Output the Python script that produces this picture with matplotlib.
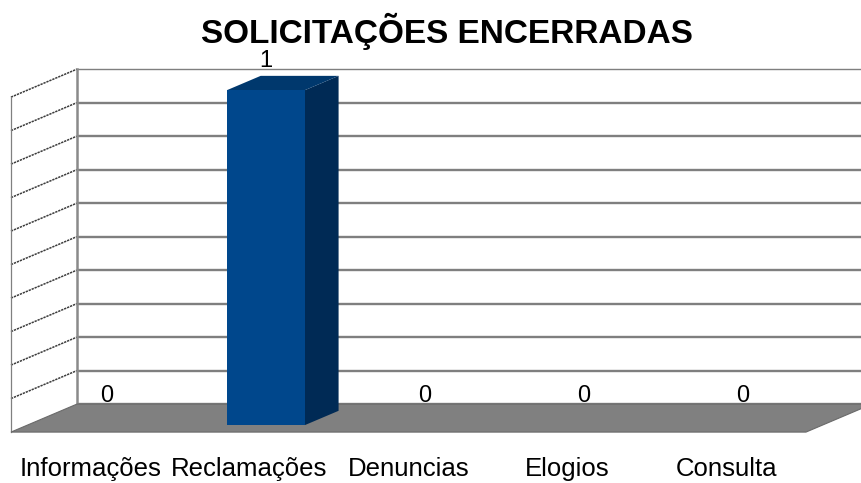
import matplotlib
matplotlib.use('Agg')
from matplotlib import pyplot as plt
from matplotlib.patches import Polygon

plt.rcParams['font.family'] = ['Liberation Sans', 'DejaVu Sans']

categories = ['Informações', 'Reclamações', 'Denuncias', 'Elogios', 'Consulta']
values = [0, 1, 0, 0, 0]
y_max = 1.0
y_step = 0.1

# oblique "3d" projection: depth d in [0, 1] shifts points right and up
DX, DY = 0.415, 0.0836
BAR_W = 0.49
D_FRONT, D_BACK = 0.25, 0.76


def proj(x, v, d):
    return x + d * DX, v + d * DY


fig = plt.figure(figsize=(8.61, 4.83), dpi=100)
ax = fig.add_axes([0, 0, 1, 1])
ax.set_xlim(-0.569, 4.846)
ax.set_ylim(-0.152, 1.290)
ax.axis('off')

n = len(categories)
x_left, x_right = -0.5, n - 0.5

# back wall grid lines
n_lines = int(round(y_max / y_step))
for k in range(n_lines + 1):
    v = k * y_step
    x0, y0 = proj(x_left, v, 1)
    x1, y1 = proj(x_right + 1, v, 1)
    lw = 1.0 if k == n_lines else 1.7
    ax.plot([x0, x1], [y0, y1], color='#7f7f7f', lw=lw, zorder=1, solid_capstyle='butt')
    # same level on the side wall
    if k > 0:
        xa, ya = proj(x_left, v, 0)
        ax.plot([xa, x0], [ya, y0], color='#3c3c3c', lw=1.1, zorder=1,
                linestyle=(0, (1.5, 0.6)))

# wall edges
xb0, yb0 = proj(x_left, 0, 1)
xb1, yb1 = proj(x_left, y_max, 1)
ax.plot([xb0, xb1], [yb0, yb1], color='#8a8a8a', lw=1.8, zorder=1)
xf0, yf0 = proj(x_left, 0, 0)
xf1, yf1 = proj(x_left, y_max, 0)
ax.plot([xf0, xf1], [yf0, yf1], color='#808080', lw=0.9, zorder=1)

# floor
floor = [proj(x_left, 0, 0), proj(x_left, 0, 1), proj(x_right, 0, 1), proj(x_right, 0, 0)]
ax.add_patch(Polygon(floor, closed=True, facecolor='#808080', edgecolor='#6a6a6a',
                     lw=0.8, zorder=2))

# bars: front, side and top faces
for i, v in enumerate(values):
    xl, xr = i - BAR_W / 2, i + BAR_W / 2
    if v > 0:
        front = [proj(xl, 0, D_FRONT), proj(xr, 0, D_FRONT),
                 proj(xr, v, D_FRONT), proj(xl, v, D_FRONT)]
        side = [proj(xr, 0, D_FRONT), proj(xr, 0, D_BACK),
                proj(xr, v, D_BACK), proj(xr, v, D_FRONT)]
        top = [proj(xl, v, D_FRONT), proj(xr, v, D_FRONT),
               proj(xr, v, D_BACK), proj(xl, v, D_BACK)]
        ax.add_patch(Polygon(side, closed=True, facecolor='#002a55', edgecolor='none', zorder=3))
        ax.add_patch(Polygon(top, closed=True, facecolor='#00386d', edgecolor='none', zorder=3))
        ax.add_patch(Polygon(front, closed=True, facecolor='#00478c', edgecolor='none', zorder=4))
    lx, _ = proj(i, v, D_FRONT)
    _, ly = proj(i, v, D_BACK)
    ax.annotate(str(v), (lx, ly), xytext=(0, 3), textcoords='offset points',
                ha='center', va='bottom', fontsize=17, zorder=5)

for i, name in enumerate(categories):
    ax.text(i, -0.11, name, ha='center', va='center', fontsize=18.5)

fig.text(0.519, 0.935, 'SOLICITAÇÕES ENCERRADAS', ha='center', va='center',
         fontsize=24, fontweight='bold')

fig.savefig('out.png', dpi=100, facecolor='white')
